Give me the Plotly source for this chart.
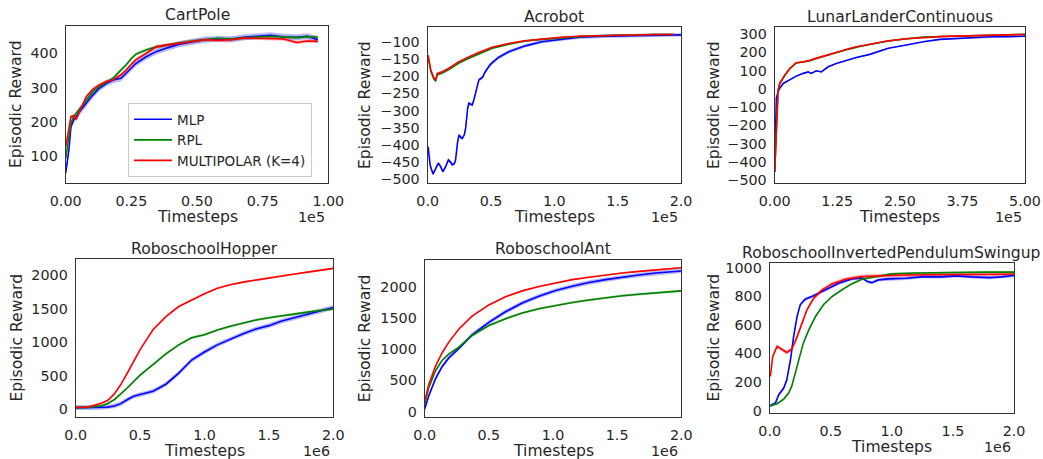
import plotly.graph_objects as go

W, H = 1043, 459
FONT = "DejaVu Sans"
TXT = "#262626"
C_MLP, C_RPL, C_MP = "#0000ff", "#008000", "#ff0000"
NAMES = ["MLP", "RPL", "MULTIPOLAR (K=4)"]

# ---------------- data ----------------
# CartPole (timesteps in units of 1e5)
cp_x = [0.0, 0.012, 0.02, 0.03, 0.04, 0.052, 0.078, 0.103, 0.128, 0.154, 0.18, 0.21, 0.23, 0.25, 0.268,
        0.306, 0.344, 0.382, 0.433, 0.484, 0.53, 0.58, 0.63, 0.68, 0.73, 0.78, 0.83, 0.88, 0.92, 0.96]
cp_mlp = [50, 117, 186, 205, 215, 229, 254, 278, 298, 312, 322, 327, 342, 358, 371,
          390, 405, 415, 427, 434, 440, 442, 441, 447, 450, 453, 448, 447, 450, 440]
cp_rpl = [93, 156, 196, 215, 225, 236, 264, 288, 303, 315, 327, 351, 366, 385, 398,
          410, 419, 424, 431, 436, 440, 444, 442, 446, 448, 450, 448, 446, 449, 447]
cp_mp = [127, 186, 215, 218, 207, 229, 273, 295, 308, 318, 322, 337, 351, 368, 382,
         400, 419, 424, 429, 434, 440, 438, 440, 445, 444, 444, 442, 432, 436, 435]

# Acrobot (1e5)
ac_x_mlp = [0.003, 0.02, 0.042, 0.06, 0.084, 0.1, 0.12, 0.14, 0.163, 0.18, 0.194, 0.21, 0.22, 0.235,
            0.247, 0.26, 0.273, 0.29, 0.3, 0.315, 0.325, 0.34, 0.352, 0.365, 0.378, 0.39, 0.404,
            0.42, 0.436, 0.45, 0.47, 0.49, 0.51, 0.562, 0.64, 0.77, 0.9, 1.06, 1.2, 1.4, 1.6, 1.8, 2.0]
ac_mlp = [-405, -460, -485, -470, -453, -462, -478, -465, -444, -450, -458, -455, -444, -395,
          -371, -378, -381, -370, -350, -295, -279, -282, -284, -268, -250, -225, -211,
          -207, -202, -190, -177, -168, -161, -145, -129, -112, -100, -92, -87, -84, -82, -81, -80]
ac_x = [0.003, 0.024, 0.05, 0.063, 0.076, 0.116, 0.168, 0.247, 0.325, 0.404, 0.51, 0.64, 0.77,
        0.9, 1.06, 1.2, 1.4, 1.6, 1.8, 1.94]
ac_rpl = [-144, -185, -210, -214, -196, -191, -181, -162, -148, -135, -119, -107, -98,
          -93, -88, -85, -82, -80, -79, -79]
ac_mp = [-139, -182, -206, -209, -192, -187, -177, -158, -144, -131, -116, -105, -97,
         -92, -87, -84, -82, -80, -79, -79]

# LunarLanderContinuous (1e5)
ll_x = [0.0, 0.033, 0.067, 0.1, 0.17, 0.2, 0.3, 0.43, 0.57, 0.67, 0.73, 0.77, 0.83, 0.93, 0.97,
        1.07, 1.23, 1.43, 1.57, 1.63, 1.9, 2.27, 2.63, 2.97, 3.3, 3.63, 3.97, 4.3, 4.63, 5.0]
ll_mlp = [-454, -49, -17, 3, 30, 35, 52, 70, 85, 93, 85, 90, 99, 93, 100,
          121, 139, 157, 168, 172, 189, 222, 240, 258, 271, 276, 280, 285, 285, 289]
ll_rpl = [-454, -175, -12, 26, 60, 73, 110, 142, 147, 151, 156, 161, 166, 176, 179,
          187, 200, 214, 223, 228, 243, 262, 274, 283, 287, 290, 293, 296, 297, 299]
ll_mp = [-454, -171, -7, 30, 62, 75, 112, 143, 148, 153, 158, 163, 168, 178, 181,
         189, 203, 218, 227, 231, 245, 263, 274, 282, 286, 289, 292, 295, 296, 298]

# RoboschoolHopper (1e6)
ho_x = [0.0, 0.1, 0.2, 0.25, 0.3, 0.35, 0.4, 0.45, 0.5, 0.6, 0.7, 0.8, 0.9, 1.0, 1.1, 1.2,
        1.3, 1.4, 1.5, 1.6, 1.7, 1.8, 1.9, 2.0]
ho_mlp = [20, 20, 22, 28, 45, 80, 138, 190, 215, 265, 370, 535, 731, 852, 958, 1047,
          1124, 1195, 1245, 1313, 1363, 1413, 1460, 1517]
ho_rpl = [20, 25, 48, 82, 140, 220, 313, 410, 505, 664, 824, 958, 1065, 1110, 1180, 1235,
          1285, 1330, 1362, 1393, 1420, 1447, 1472, 1493]
ho_mp = [22, 32, 85, 130, 225, 365, 534, 710, 888, 1183, 1380, 1530, 1631, 1720, 1802, 1856,
         1895, 1928, 1959, 1990, 2017, 2044, 2071, 2100]

# RoboschoolAnt (1e6)
an_x = [0.0, 0.031, 0.083, 0.135, 0.187, 0.265, 0.369, 0.5, 0.63, 0.76, 0.89, 1.02, 1.15,
        1.28, 1.41, 1.54, 1.67, 1.8, 2.0]
an_mlp = [43, 250, 520, 720, 860, 1010, 1230, 1430, 1600, 1740, 1850, 1940, 2010,
          2070, 2115, 2155, 2190, 2222, 2255]
an_rpl = [117, 380, 650, 820, 920, 1030, 1220, 1380, 1490, 1580, 1650, 1705, 1750,
          1790, 1826, 1856, 1882, 1906, 1936]
an_mp = [160, 430, 720, 940, 1110, 1320, 1530, 1710, 1840, 1935, 2005, 2065, 2115,
         2155, 2190, 2222, 2248, 2273, 2305]

# RoboschoolInvertedPendulumSwingup (1e6)
ip_x_mlp = [0.005, 0.047, 0.074, 0.115, 0.14, 0.17, 0.196, 0.224, 0.25, 0.29, 0.347, 0.4, 0.48,
            0.565, 0.67, 0.755, 0.8, 0.837, 0.89, 0.97, 1.12, 1.26, 1.4, 1.53, 1.65, 1.8, 1.9, 2.0]
ip_mlp = [35, 54, 112, 158, 216, 356, 519, 658, 740, 779, 798, 821, 856,
          891, 921, 928, 902, 895, 914, 921, 926, 937, 935, 942, 935, 930, 935, 945]
ip_x_rpl = [0.005, 0.06, 0.115, 0.155, 0.18, 0.21, 0.235, 0.275, 0.32, 0.375, 0.44, 0.51, 0.59,
            0.67, 0.755, 0.86, 1.0, 1.2, 1.4, 1.6, 1.8, 2.0]
ip_rpl = [35, 49, 81, 123, 170, 263, 356, 472, 565, 658, 740, 798, 844,
          886, 919, 937, 956, 962, 965, 967, 968, 968]
ip_x_mp = [0.005, 0.025, 0.06, 0.1, 0.14, 0.18, 0.22, 0.265, 0.305, 0.36, 0.43, 0.51, 0.62,
           0.755, 0.92, 1.1, 1.3, 1.5, 1.7, 1.9, 2.0]
ip_mp = [239, 379, 449, 430, 407, 430, 507, 612, 705, 786, 844, 886, 919,
         937, 944, 948, 950, 953, 955, 954, 955]

# half-width of the shaded bands (MLP, RPL, MULTIPOLAR)
band_cp = [9, 5, 5]
band_ac = [5, 3, 3]
band_ll = [3, 3, 3]
band_ho = [35, 20, 12]
band_an = [35, 20, 12]
band_ip = [12, 8, 14]

# ---------------- layout helpers (page pixels -> paper fractions) ----------------
def px2x(p):
    return p / W

def px2y(p):
    return 1 - p / H

fig = go.Figure()
annotations = []
layout_axes = {}

def rgba(hexc, a):
    h = hexc.lstrip("#")
    return "rgba(%d,%d,%d,%.2f)" % (int(h[0:2], 16), int(h[2:4], 16), int(h[4:6], 16), a)

def minus(v, fmt):
    return fmt.format(v).replace("-", "\u2212")

def panel(idx, title, series, bands, box, xr, xt, xfmt, yr, yt, scale, ylab_x, first=False):
    left, right, top, bottom = box
    xa = "x" if idx == 1 else "x%d" % idx
    ya = "y" if idx == 1 else "y%d" % idx
    xkey = "xaxis" if idx == 1 else "xaxis%d" % idx
    ykey = "yaxis" if idx == 1 else "yaxis%d" % idx
    colors = [C_MLP, C_RPL, C_MP]
    for k, (xs, ys) in enumerate(series):
        s = bands[k]
        up = [v + s for v in ys]
        lo = [v - s for v in ys]
        fig.add_trace(go.Scatter(x=xs + xs[::-1], y=up + lo[::-1], fill="toself",
                                 fillcolor=rgba(colors[k], 0.28), line=dict(width=0),
                                 hoverinfo="skip", showlegend=False, xaxis=xa, yaxis=ya))
    for k, (xs, ys) in enumerate(series):
        fig.add_trace(go.Scatter(x=xs, y=ys, mode="lines", name=NAMES[k],
                                 line=dict(color=colors[k], width=1.6),
                                 showlegend=first, xaxis=xa, yaxis=ya))
    common = dict(showline=True, mirror=True, linecolor="#333333", linewidth=1.2,
                  showgrid=False, zeroline=False, ticks="", automargin=False,
                  tickfont=dict(family=FONT, size=14.3, color=TXT))
    layout_axes[xkey] = dict(common, domain=[px2x(left), px2x(right)], range=xr,
                             tickvals=xt, ticktext=[xfmt.format(v) for v in xt],
                             anchor=ya, ticklabelstandoff=5)
    layout_axes[ykey] = dict(common, domain=[px2y(bottom), px2y(top)], range=yr,
                             tickvals=yt, ticktext=[minus(v, "{:d}") for v in yt],
                             anchor=xa, ticklabelstandoff=4)
    cx = (left + right) / 2
    annotations.append(dict(text=title, x=px2x(cx), y=px2y(top - 10.5), xref="paper", yref="paper",
                            xanchor="center", yanchor="middle", showarrow=False,
                            font=dict(family=FONT, size=15.6, color=TXT)))
    annotations.append(dict(text="Timesteps", x=px2x(cx), y=px2y(bottom + 34), xref="paper",
                            yref="paper", xanchor="center", yanchor="middle", showarrow=False,
                            font=dict(family=FONT, size=15.6, color=TXT)))
    annotations.append(dict(text=scale, x=px2x(right - 1), y=px2y(bottom + 34), xref="paper",
                            yref="paper", xanchor="right", yanchor="middle", showarrow=False,
                            font=dict(family=FONT, size=14.3, color=TXT)))
    annotations.append(dict(text="Episodic Reward", x=px2x(ylab_x), y=px2y((top + bottom) / 2),
                            xref="paper", yref="paper", xanchor="center", yanchor="middle",
                            textangle=-90, showarrow=False,
                            font=dict(family=FONT, size=15.6, color=TXT)))

panel(1, "CartPole", [(cp_x, cp_mlp), (cp_x, cp_rpl), (cp_x, cp_mp)], band_cp,
      (65.7, 328.3, 26.0, 182.7), [0, 1.0], [0, 0.25, 0.5, 0.75, 1.0], "{:.2f}",
      [22, 480], [100, 200, 300, 400], "1e5", 16.7, first=True)
panel(2, "Acrobot", [(ac_x_mlp, ac_mlp), (ac_x, ac_rpl), (ac_x, ac_mp)], band_ac,
      (427.7, 681.0, 27.3, 182.7), [0, 2.0], [0, 0.5, 1.0, 1.5, 2.0], "{:.1f}",
      [-510, -58], list(range(-500, -99, 50)), "1e5", 365)
panel(3, "LunarLanderContinuous", [(ll_x, ll_mlp), (ll_x, ll_rpl), (ll_x, ll_mp)], band_ll,
      (774.7, 1025.0, 27.3, 182.7), [0, 5.0], [0, 1.25, 2.5, 3.75, 5.0], "{:.2f}",
      [-513, 337], list(range(-500, 301, 100)), "1e5", 714)
panel(4, "RoboschoolHopper", [(ho_x, ho_mlp), (ho_x, ho_rpl), (ho_x, ho_mp)], band_ho,
      (75.7, 333.3, 259.0, 416.7), [0, 2.0], [0, 0.5, 1.0, 1.5, 2.0], "{:.1f}",
      [-115, 2240], [0, 500, 1000, 1500, 2000], "1e6", 16.7)
panel(5, "RoboschoolAnt", [(an_x, an_mlp), (an_x, an_rpl), (an_x, an_mp)], band_an,
      (424.7, 681.3, 259.7, 416.7), [0, 2.0], [0, 0.5, 1.0, 1.5, 2.0], "{:.1f}",
      [-82, 2435], [0, 500, 1000, 1500, 2000], "1e6", 365)
panel(6, "RoboschoolInvertedPendulumSwingup", [(ip_x_mlp, ip_mlp), (ip_x_rpl, ip_rpl), (ip_x_mp, ip_mp)],
      band_ip, (769.7, 1014.0, 263.3, 412.7), [0, 2.0], [0, 0.5, 1.0, 1.5, 2.0], "{:.1f}",
      [-14, 1030], [0, 200, 400, 600, 800, 1000], "1e6", 713.5)

fig.update_layout(
    template="none",
    width=W, height=H, autosize=False,
    margin=dict(l=0, r=0, t=0, b=0, autoexpand=False),
    paper_bgcolor="white", plot_bgcolor="white",
    font=dict(family=FONT, color=TXT),
    annotations=annotations,
    legend=dict(x=px2x(128), y=px2y(103), xanchor="left", yanchor="top",
                bgcolor="rgba(255,255,255,0.85)", bordercolor="#cccccc", borderwidth=1,
                font=dict(family=FONT, size=13.5, color=TXT), itemwidth=38,
                tracegroupgap=0),
    **layout_axes,
)

# remove the browser's default 8px page margin so the figure sits at the window origin
fig.write_html("out.html", config={"displayModeBar": False},
               post_script="document.body.style.margin='0';")
